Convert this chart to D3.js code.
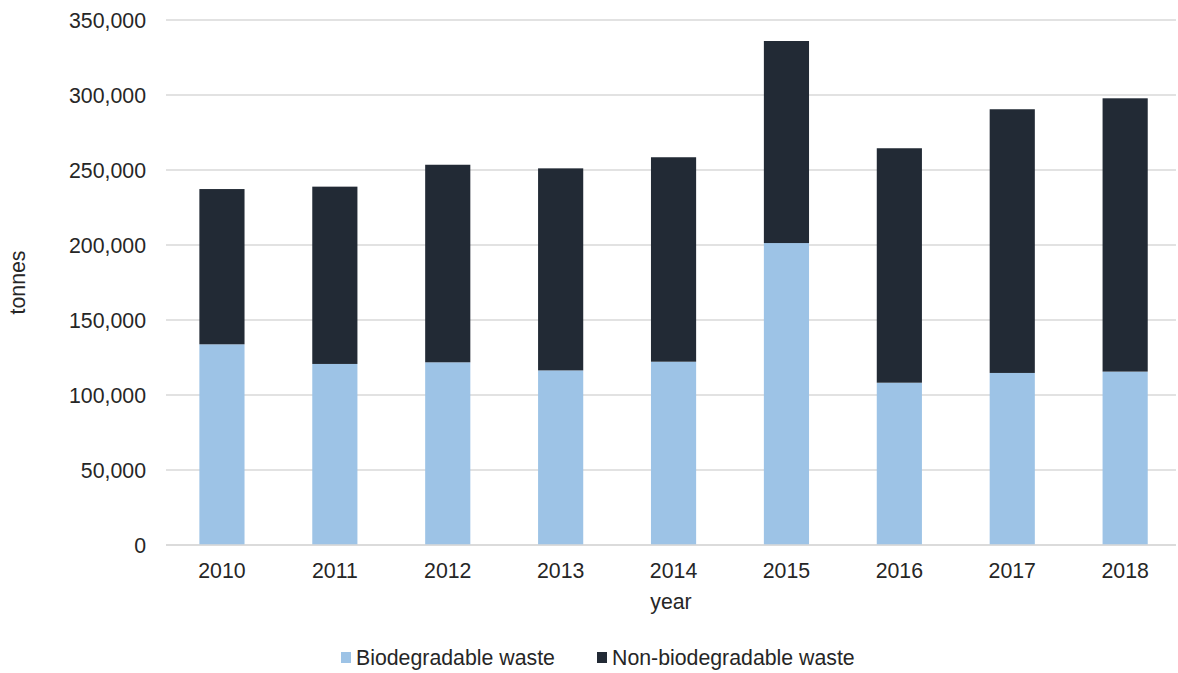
<!DOCTYPE html>
<html><head><meta charset="utf-8">
<script src="https://cdn.jsdelivr.net/npm/d3@7"></script>
<style>body{margin:0;background:#fff;} text{font-family:"Liberation Sans",Arial,sans-serif;fill:#262626;}</style>
</head><body>
<svg id="c" width="1178" height="673"></svg>
<script>
const years = ["2010","2011","2012","2013","2014","2015","2016","2017","2018"];
const biodegradable = [133800,120700,121800,116400,122200,201300,108200,114700,115600];
const totals = [237300,238900,253500,251100,258500,336000,264500,290500,297800];
const nonBiodegradable = totals.map((t,i)=>t-biodegradable[i]);
const yTicks = [0,50000,100000,150000,200000,250000,300000,350000];
const seriesNames = ["Biodegradable waste","Non-biodegradable waste"];
const colors = ["#9DC3E6","#222A35"];

const svg = d3.select("#c");
const L=166, R=1176, T=20, B=545;
const FS = "21.3px";
const x = d3.scaleBand().domain(years).range([165.5,1181.6]).paddingInner(0.6).paddingOuter(0.3);
const y = d3.scaleLinear().domain([0,350000]).range([B,T]);

// gridlines
svg.append("g").selectAll("line").data(yTicks).join("line")
  .attr("x1",L).attr("x2",R).attr("y1",d=>y(d)).attr("y2",d=>y(d))
  .attr("stroke","#d9d9d9").attr("stroke-width",1.5);

const data = years.map((yr,i)=>({year:yr, bio:biodegradable[i], non:nonBiodegradable[i]}));
const stack = d3.stack().keys(["bio","non"])(data);
svg.append("g").selectAll("g").data(stack).join("g")
  .attr("fill",(d,i)=>colors[i])
  .selectAll("rect").data(d=>d).join("rect")
  .attr("x",d=>x(d.data.year)).attr("width",x.bandwidth())
  .attr("y",d=>y(d[1])).attr("height",d=>y(d[0])-y(d[1]));

// baseline
svg.append("line").attr("x1",L).attr("x2",R).attr("y1",y(0)).attr("y2",y(0))
  .attr("stroke","#d9d9d9").attr("stroke-width",1.5);

// y axis labels
const fmt = d3.format(",");
svg.append("g").selectAll("text").data(yTicks).join("text")
  .attr("x",146).attr("y",d=>y(d)).attr("dy","0.36em")
  .attr("text-anchor","end").style("font-size",FS).text(d=>fmt(d));

// x axis labels
svg.append("g").selectAll("text").data(years).join("text")
  .attr("x",d=>x(d)+x.bandwidth()/2).attr("y",578)
  .attr("text-anchor","middle").style("font-size",FS).text(d=>d);

svg.append("text").attr("x",(L+R)/2).attr("y",609).attr("text-anchor","middle")
  .style("font-size",FS).text("year");
svg.append("text").attr("transform",`translate(25,${(T+B)/2}) rotate(-90)`)
  .attr("text-anchor","middle").style("font-size",FS).text("tonnes");

// legend
const legX = [341, 597];
const lg = svg.append("g").selectAll("g").data(seriesNames).join("g")
  .attr("transform",(d,i)=>`translate(${legX[i]},0)`);
lg.append("rect").attr("x",0).attr("y",652).attr("width",10).attr("height",11).attr("fill",(d,i)=>colors[i]);
lg.append("text").attr("x",15).attr("y",665).style("font-size",FS).text(d=>d);
</script>
</body></html>
